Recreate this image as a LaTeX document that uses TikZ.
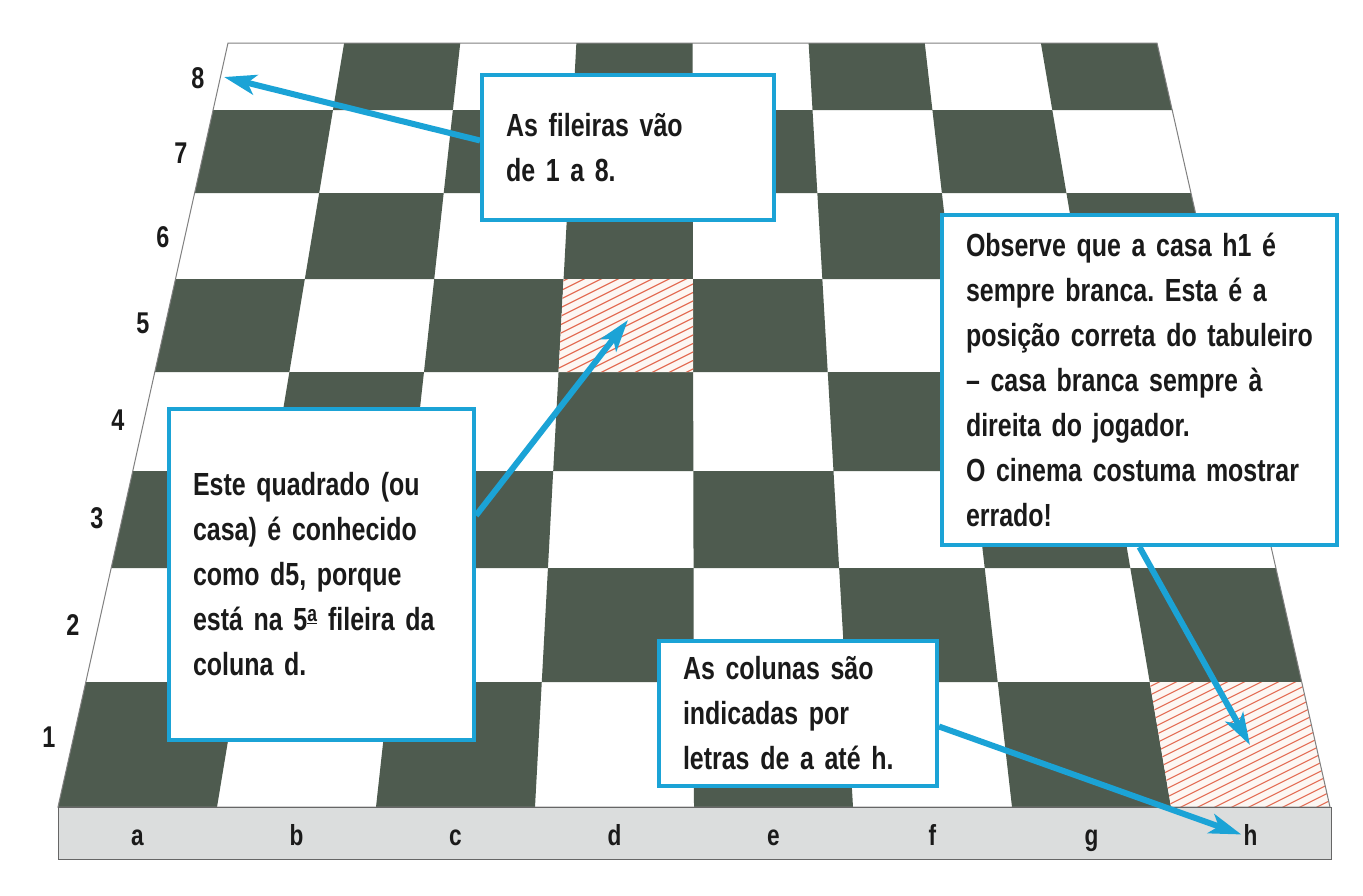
\documentclass[tikz,border=0pt]{standalone}
\usepackage{fontspec}
\setmainfont{Liberation Sans}[FakeStretch=0.78]
\usetikzlibrary{arrows.meta,calc}
\definecolor{dark}{RGB}{78,91,79}
\definecolor{cyanb}{RGB}{27,163,214}
\definecolor{hatchc}{RGB}{228,112,88}
\definecolor{hatchbg}{RGB}{253,247,243}
\definecolor{strip}{RGB}{219,221,221}
\definecolor{txt}{RGB}{26,26,26}
\pgfdeclarelayer{boardlayer}
\pgfdeclarelayer{arrowlayer}
\pgfsetlayers{boardlayer,arrowlayer,main}
\def\rowys{{43,110,193,279,372,471,568,682,807}}
\newcommand\cellcalc[2]{%
  \pgfmathsetmacro\ya{\rowys[#1]}%
  \pgfmathsetmacro\yb{\rowys[#1+1]}%
  \pgfmathsetmacro\la{228-(\ya-43)/764*170}%
  \pgfmathsetmacro\wa{(1157+(\ya-43)/764*173-\la)/8}%
  \pgfmathsetmacro\lb{228-(\yb-43)/764*170}%
  \pgfmathsetmacro\wb{(1157+(\yb-43)/764*173-\lb)/8}%
  \pgfmathsetmacro\xa{\la+#2*\wa}%
  \pgfmathsetmacro\xb{\la+#2*\wa+\wa}%
  \pgfmathsetmacro\xc{\lb+#2*\wb+\wb}%
  \pgfmathsetmacro\xd{\lb+#2*\wb}%
}
\newcommand\hatchcell[2]{%
  \cellcalc{#1}{#2}%
  \pgfmathsetmacro\cx{(\xa+\xb+\xc+\xd)/4}%
  \pgfmathsetmacro\cy{(\ya+\yb)/2}%
  \begin{scope}
    \clip (\xa,\ya) -- (\xb,\ya) -- (\xc,\yb) -- (\xd,\yb) -- cycle;
    \fill[hatchbg] (\xa,\ya) -- (\xb,\ya) -- (\xc,\yb) -- (\xd,\yb) -- cycle;
    \foreach \k in {-18,...,18}{
      \draw[hatch] (\cx+\k*17-350,\cy+175) -- (\cx+\k*17+350,\cy-175);
    }
  \end{scope}
}
\begin{document}
\frenchspacing
\begin{tikzpicture}[x=1pt,y=-1pt,
  infobox/.style={draw=cyanb, line width=4pt, fill=white, anchor=north west,
    inner xsep=24pt, inner ysep=0pt, align=left,
    font=\fontsize{32}{45}\selectfont\bfseries\frenchspacing, text=txt},
  rowlbl/.style={anchor=base, font=\fontsize{30}{30}\selectfont\bfseries, text=txt, inner sep=0pt},
  collbl/.style={anchor=base, font=\fontsize{29}{29}\selectfont\bfseries, text=txt, inner sep=2pt},
  pointer/.style={draw=cyanb, line width=6pt, -{Stealth[length=32pt,width=20pt,inset=8pt]}},
  hatch/.style={draw=hatchc, line width=1.2pt}]
\useasboundingbox (0,0) rectangle (1363,895);
\begin{pgfonlayer}{boardlayer}
  \fill[white] (0,0) rectangle (1363,895);
  \foreach \r in {0,...,7}{
    \foreach \c in {0,...,7}{
      \cellcalc{\r}{\c}
      \pgfmathtruncatemacro\parity{mod(\r+\c,2)}
      \ifnum\parity=1
        \fill[dark] (\xa,\ya) -- (\xb,\ya) -- (\xc,\yb) -- (\xd,\yb) -- cycle;
      \fi
    }
  }
  \hatchcell{3}{3}
  \hatchcell{7}{7}
  \draw[gray, line width=1pt] (228,43) -- (1157,43) -- (1330,807) -- (58,807) -- cycle;
  \draw[fill=strip, draw=gray!80!black, line width=1pt] (58,807) rectangle (1331,859);
\end{pgfonlayer}

% rank labels
\node[rowlbl] (r8) at (198,88) {8};
\node[rowlbl] (r7) at (181,163) {7};
\node[rowlbl] (r6) at (163,247) {6};
\node[rowlbl] (r5) at (143,333) {5};
\node[rowlbl] (r4) at (118,430) {4};
\node[rowlbl] (r3) at (97,528) {3};
\node[rowlbl] (r2) at (73,635) {2};
\node[rowlbl] (r1) at (49,747) {1};

% file labels
\node[collbl] (cola) at (137.5,845) {a};
\node[collbl] (colb) at (296.5,845) {b};
\node[collbl] (colc) at (455.5,845) {c};
\node[collbl] (cold) at (614.5,845) {d};
\node[collbl] (cole) at (773.5,845) {e};
\node[collbl] (colf) at (932.5,845) {f};
\node[collbl] (colg) at (1091.5,845) {g};
\node[collbl] (colh) at (1250.5,845) {h};

% boxes
\node[infobox, text width=244pt, minimum width=292pt, minimum height=145pt] (box1) at (480,73)
  {\mbox{As fileiras vão}\\\mbox{de 1 a 8.}};
\node[infobox, text width=347pt, minimum width=395pt, minimum height=330pt] (box2) at (940,213)
  {\mbox{Observe que a casa h1 é}\\\mbox{sempre branca. Esta é a}\\\mbox{posição correta do tabuleiro}\\\mbox{– casa branca sempre à}\\\mbox{direita do jogador.}\\\mbox{O cinema costuma mostrar}\\\mbox{errado!}};
\node[infobox, text width=257pt, minimum width=305pt, minimum height=331pt] (box3) at (167,407)
  {\mbox{Este quadrado (ou}\\\mbox{casa) é conhecido}\\\mbox{como d5, porque}\\\mbox{está na 5\textsuperscript{\underline{a}} fileira da}\\\mbox{coluna d.}};
\node[infobox, text width=230pt, minimum width=278pt, minimum height=145pt] (box4) at (657,639)
  {\mbox{As colunas são}\\\mbox{indicadas por}\\\mbox{letras de a até h.}};

% arrow targets
\coordinate (t1) at (224,77);
\coordinate (t2) at (628,320);
\coordinate (t3) at (1250,745);

\begin{pgfonlayer}{arrowlayer}
  \draw[pointer] ([yshift=7pt]box1.west) -- (t1);
  \draw[pointer] ([yshift=59pt]box3.east) -- (t2);
  \draw[pointer] (box2.south) -- (t3);
  \draw[pointer] ([yshift=-13pt]box4.east) -- (colh.west);
\end{pgfonlayer}
\end{tikzpicture}
\end{document}
